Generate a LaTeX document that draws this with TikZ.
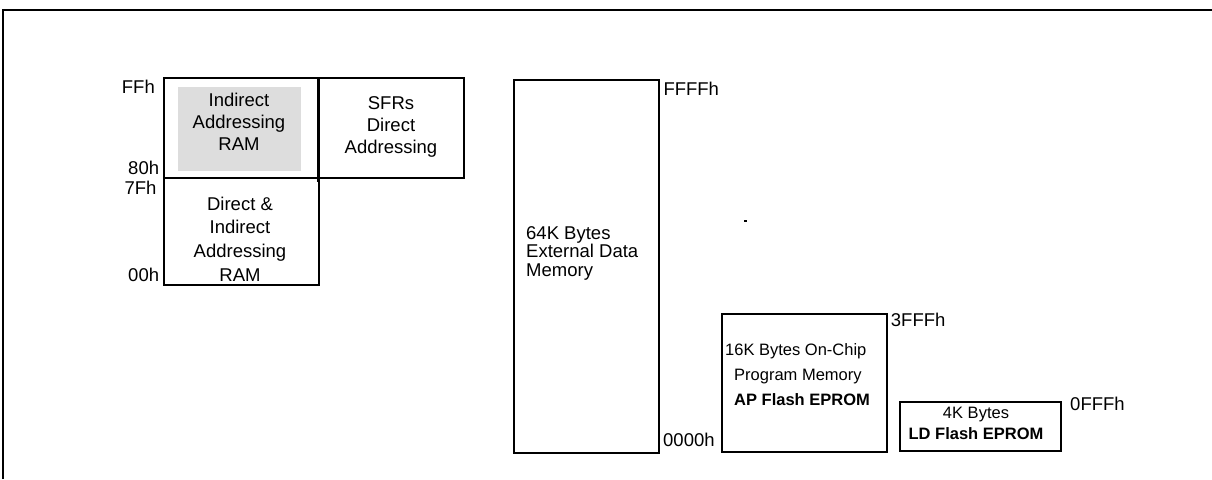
\documentclass[tikz,border=0pt]{standalone}
\usepackage{fontspec}
\setmainfont{Liberation Sans}
\definecolor{shade}{RGB}{221,221,221}
\begin{document}
\begin{tikzpicture}[x=1pt,y=-1pt,
  memblock/.style={draw, line width=2pt, inner sep=0pt, anchor=north west},
  graybox/.style={fill=shade, inner sep=0pt, anchor=north west},
  lbl/.style={inner sep=0pt, font=\fontsize{18.5}{22}\selectfont},
  bigtext/.style={inner sep=0pt, align=center, font=\fontsize{18.5}{#1}\selectfont},
  smalltext/.style={inner sep=0pt, font=\fontsize{16.5}{#1}\selectfont},
  frame/.style={line width=2pt}
]
\useasboundingbox (0,0) rectangle (1212,479);
% frame
\draw[frame] (3,479) -- (3,10) -- (1212,10);

% gray area
\node[graybox, minimum width=123pt, minimum height=83.7pt] (gray) at (178,87) {};

% boxes
\node[memblock, minimum width=155pt, minimum height=99.4pt] (ind) at (163.3,77.3) {};
\node[memblock, minimum width=155pt, minimum height=107.3pt] (dir) at (163.3,176.7) {};
\node[memblock, minimum width=145pt, minimum height=100pt] (sfr) at (318.3,77.3) {};
\node[memblock, minimum width=144.7pt, minimum height=373pt] (ext) at (513,79.3) {};
\node[memblock, minimum width=164.7pt, minimum height=138.3pt] (ap) at (721,312.7) {};
\node[memblock, minimum width=160.8pt, minimum height=49.5pt] (ld) at (899.2,400.5) {};
\draw[line width=3.3pt] (sfr.north west) -- ([yshift=-3pt]sfr.south west);

% texts
\node[bigtext=21.7] (tind) at (239,121.7) {Indirect\\Addressing\\RAM};
\node[bigtext=22] (tsfr) at (391,127.3) {SFRs\\Direct\\Addressing};
\node[bigtext=23.7] (tdir) at (240,238.9) {Direct \&\\Indirect\\Addressing\\RAM};
\node[bigtext=18.7, align=left, anchor=west] (text) at (526,253.3) {64K Bytes\\External Data\\Memory};
\node[smalltext=25, align=left, anchor=west] (tap) at (725,374.1) {16K Bytes On-Chip\\\hspace*{9pt}Program Memory\\\hspace*{9pt}\textbf{AP Flash EPROM}};
\node[smalltext=21.7, align=center] (tld) at (976,423.25) {4K Bytes\\\textbf{LD Flash EPROM}};

% address labels
\node[lbl, anchor=base east] (lffh) at (155,93.5) {FFh};
\node[lbl, anchor=base east] (l80h) at (159.3,174) {80h};
\node[lbl, anchor=base east] (l7fh) at (156.7,194) {7Fh};
\node[lbl, anchor=base east] (l00h) at (159.3,281.7) {00h};
\node[lbl, anchor=base west] (lffff) at (663.3,95.7) {FFFFh};
\node[lbl, anchor=base west] (l0000) at (663,446.7) {0000h};
\node[lbl, anchor=base west] (l3fff) at (890.7,326) {3FFFh};
\node[lbl, anchor=base west] (l0fff) at (1070,410) {0FFFh};

% stray mark
\draw[line width=1.3pt] (744,221) -- (747.3,221);
\end{tikzpicture}
\end{document}
